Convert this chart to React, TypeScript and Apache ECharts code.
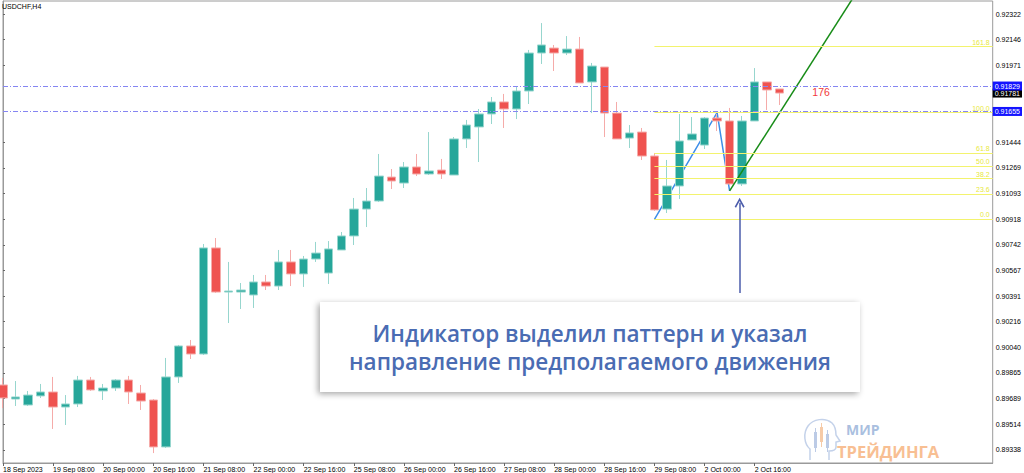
import React, { useEffect, useRef } from 'react';
import * as echarts from 'echarts';

const chartTitle = 'USDCHF,H4';

// H4 bars, oldest first: [open, close, low, high]
const ohlc: number[][] = [
  [0.89783, 0.89694, 0.89625, 0.89831],
  [0.89687, 0.89701, 0.89639, 0.8981],
  [0.89646, 0.89714, 0.89639, 0.89742],
  [0.89708, 0.89735, 0.89694, 0.8979],
  [0.89735, 0.89632, 0.89482, 0.89838],
  [0.89632, 0.89653, 0.89509, 0.89714],
  [0.89653, 0.89817, 0.89632, 0.89845],
  [0.89817, 0.89749, 0.89742, 0.89838],
  [0.89742, 0.89762, 0.8968, 0.8979],
  [0.89762, 0.89817, 0.89742, 0.89824],
  [0.89817, 0.89735, 0.89653, 0.89845],
  [0.89728, 0.89673, 0.89612, 0.89783],
  [0.8968, 0.89359, 0.89317, 0.89687],
  [0.89359, 0.89838, 0.89352, 0.89968],
  [0.89838, 0.9005, 0.89797, 0.90057],
  [0.9005, 0.89995, 0.89961, 0.90091],
  [0.89995, 0.90721, 0.89988, 0.90748],
  [0.90721, 0.90419, 0.90413, 0.90789],
  [0.90419, 0.90426, 0.90207, 0.90625],
  [0.90419, 0.90433, 0.90303, 0.90481],
  [0.90399, 0.90488, 0.9031, 0.90536],
  [0.90488, 0.9046, 0.90433, 0.90536],
  [0.9046, 0.90625, 0.90433, 0.90707],
  [0.90625, 0.90543, 0.9046, 0.90707],
  [0.90543, 0.90645, 0.90454, 0.90666],
  [0.90645, 0.90686, 0.90625, 0.90762],
  [0.90549, 0.90714, 0.90474, 0.90768],
  [0.90707, 0.90803, 0.90707, 0.9083],
  [0.90803, 0.90987, 0.90741, 0.91063],
  [0.90987, 0.91042, 0.90864, 0.91131],
  [0.91042, 0.91213, 0.91035, 0.91364],
  [0.91206, 0.91179, 0.91124, 0.91261],
  [0.91165, 0.91275, 0.91131, 0.91309],
  [0.91275, 0.91227, 0.91213, 0.91364],
  [0.91227, 0.91248, 0.9122, 0.91514],
  [0.91254, 0.91227, 0.91193, 0.9133],
  [0.9122, 0.91467, 0.9122, 0.9148],
  [0.91467, 0.91562, 0.91405, 0.91597],
  [0.91549, 0.91638, 0.91309, 0.91672],
  [0.91638, 0.9172, 0.91569, 0.91754],
  [0.9172, 0.91672, 0.91542, 0.91775],
  [0.91672, 0.91795, 0.91603, 0.91822],
  [0.91795, 0.92055, 0.91706, 0.92076],
  [0.92055, 0.9211, 0.9198, 0.9226],
  [0.92089, 0.92055, 0.91932, 0.9211],
  [0.92055, 0.92082, 0.92041, 0.92171],
  [0.92082, 0.9185, 0.9185, 0.92165],
  [0.91857, 0.91966, 0.91644, 0.91987],
  [0.91959, 0.91644, 0.9148, 0.91959],
  [0.91644, 0.91467, 0.91467, 0.9172],
  [0.91473, 0.91508, 0.91405, 0.91562],
  [0.91514, 0.9135, 0.91323, 0.91542],
  [0.9135, 0.90981, 0.90974, 0.91371],
  [0.90987, 0.91145, 0.9096, 0.91323],
  [0.91145, 0.91453, 0.91056, 0.91638],
  [0.9146, 0.91501, 0.9146, 0.91617],
  [0.91425, 0.9161, 0.91398, 0.91617],
  [0.9161, 0.9159, 0.91521, 0.91638],
  [0.9159, 0.91159, 0.91152, 0.91679],
  [0.91159, 0.9159, 0.91145, 0.91624],
  [0.9159, 0.91857, 0.9159, 0.91952],
  [0.91857, 0.91802, 0.91665, 0.91857],
  [0.91809, 0.91781, 0.91699, 0.91809],
];

// time scale labels, one every four bars
const timeTickBars = [0, 4, 8, 12, 16, 20, 24, 28, 32, 36, 40, 44, 48, 52, 56, 60];
const timeTickLabels = [
  '18 Sep 2023', '19 Sep 08:00', '20 Sep 00:00', '20 Sep 16:00',
  '21 Sep 08:00', '22 Sep 00:00', '22 Sep 16:00', '25 Sep 08:00',
  '26 Sep 00:00', '26 Sep 16:00', '27 Sep 08:00', '28 Sep 00:00',
  '28 Sep 16:00', '29 Sep 08:00', '2 Oct 00:00', '2 Oct 16:00',
];

// price scale labels
const priceTicks = [
  0.89338, 0.89514, 0.89689, 0.89865, 0.9004, 0.90216, 0.90391, 0.90567,
  0.90742, 0.90918, 0.91093, 0.91269, 0.91444, 0.91971, 0.92146, 0.92322,
];

// zigzag swing points [bar, price] and the projected move
const zigzag = [[52, 0.90917], [57, 0.91647], [58, 0.91111]];
const forecast = [[58, 0.91111], [68, 0.92452]];
const fibRatios = [0, 23.6, 38.2, 50, 61.8, 100, 161.8];
const fibFromBar = 52;
const lastSlot = 79;
const priceLines = [0.91829, 0.91655];
const bidPrice = 0.91781;
const moveText = { bar: 65.3, price: 0.91788, text: '176' };
const signalArrow = { bar: 58.8, from: 0.90413, to: 0.91031 };
const priceMin = 0.89249;
const priceMax = 0.92411;

const FONT = "'Liberation Sans', Arial, sans-serif";
const HEAD_PATH =
  'M7 42 L7 31 C1 26 0 15 5 8 C10 1 22 -1 29 5 C33 9 33 14 33 17 L37 23 L33 24 L33 29 C33 32 30 33 26 33 L26 42';

export default function App() {
  const ref = useRef<HTMLDivElement>(null);

  useEffect(() => {
    if (!ref.current) return;
    echarts.graphic.registerShape('brandHead', echarts.graphic.extendPath(HEAD_PATH, {}));
    const chart = echarts.init(ref.current, null, { renderer: 'svg' });

    const p0 = zigzag[0][1];
    const p100 = zigzag[1][1];
    const fibLines = fibRatios.map((r) => {
      const v = p0 + ((p100 - p0) * r) / 100;
      return [
        {
          coord: [fibFromBar, v],
          lineStyle: { color: '#f3f36e', width: 1, type: 'solid' },
          label: {
            show: true,
            position: 'insideEndTop',
            distance: [3, 1],
            formatter: r.toFixed(1),
            color: '#e8e83a',
            fontSize: 7,
            fontFamily: FONT,
          },
        },
        { coord: [lastSlot, v] },
      ];
    });

    const boxLabel = (text: string, bg: string) => ({
      show: true,
      position: 'end',
      distance: 0,
      formatter: text,
      color: '#fff',
      backgroundColor: bg,
      padding: [1, 2, 1, 2],
      fontSize: 7,
      fontFamily: FONT,
    });

    // horizontal price lines across the whole plot, with their boxes on the price scale
    const levelLines = [
      [
        {
          coord: [0, bidPrice],
          lineStyle: { color: 'rgba(0,0,0,0)', width: 0 },
          label: boxLabel(bidPrice.toFixed(5), '#000'),
        },
        { coord: [lastSlot, bidPrice] },
      ],
      ...priceLines.map((v) => [
        {
          coord: [0, v],
          lineStyle: { color: '#8585f2', width: 1, type: [5, 2, 1, 2] },
          label: boxLabel(v.toFixed(5), '#1414ff'),
        },
        { coord: [lastSlot, v] },
      ]),
    ];

    const option: any = {
      animation: false,
      backgroundColor: '#fff',
      title: {
        text: chartTitle,
        left: 2,
        top: 3,
        padding: 0,
        textStyle: { fontSize: 7, fontWeight: 'normal', color: '#000', fontFamily: FONT },
      },
      grid: {
        left: 1,
        right: 26,
        top: 1,
        bottom: 10,
        show: true,
        borderColor: '#9a9a9a',
        borderWidth: 1,
        backgroundColor: '#fff',
      },
      xAxis: {
        type: 'value',
        min: 0,
        max: lastSlot,
        axisLine: { show: true, lineStyle: { color: '#9a9a9a' } },
        axisTick: { show: true, customValues: timeTickBars, length: 3, lineStyle: { color: '#666' } },
        axisLabel: {
          customValues: timeTickBars,
          formatter: (v: number) => timeTickLabels[timeTickBars.indexOf(v)] ?? '',
          align: 'left',
          margin: 3,
          fontSize: 7,
          color: '#000',
          fontFamily: FONT,
        },
        splitLine: { show: false },
      },
      yAxis: {
        type: 'value',
        position: 'right',
        min: priceMin,
        max: priceMax,
        axisLine: { show: true, lineStyle: { color: '#9a9a9a' } },
        axisTick: { show: true, customValues: priceTicks, length: 2, lineStyle: { color: '#666' } },
        axisLabel: {
          customValues: priceTicks,
          formatter: (v: number) => v.toFixed(5),
          margin: 3,
          fontSize: 7,
          color: '#000',
          fontFamily: FONT,
        },
        splitLine: { show: false },
      },
      series: [
        {
          type: 'line',
          name: 'ZigZag',
          data: zigzag,
          symbol: 'none',
          z: 1,
          lineStyle: { color: '#3d8ee8', width: 1.5 },
          markLine: {
            silent: true,
            symbol: ['none', 'none'],
            data: fibLines,
          },
        },
        {
          type: 'candlestick',
          name: chartTitle,
          data: ohlc.map((b, i) => [i, ...b]),
          encode: { x: 0, y: [1, 2, 3, 4] },
          barWidth: 9,
          z: 2,
          itemStyle: {
            color: '#26a69a',
            color0: '#ef5350',
            borderColor: '#97d6ce',
            borderColor0: '#f5aba9',
            borderWidth: 1,
          },
        },
        {
          type: 'line',
          name: 'Levels',
          data: [[0, bidPrice]],
          symbol: 'none',
          z: 3,
          lineStyle: { opacity: 0 },
          markLine: {
            silent: true,
            symbol: ['none', 'none'],
            data: levelLines,
          },
        },
        {
          type: 'line',
          name: 'Forecast',
          data: forecast,
          symbol: 'none',
          z: 3,
          lineStyle: { color: '#178c17', width: 1.5 },
          markLine: {
            silent: true,
            symbol: ['none', 'path://M5 0 L10 9 L8.6 9.8 L5 3.2 L1.4 9.8 L0 9 Z'],
            symbolSize: [10, 10],
            label: { show: false },
            lineStyle: { color: '#4b5cab', width: 1.5, type: 'solid' },
            data: [[{ coord: [signalArrow.bar, signalArrow.from] }, { coord: [signalArrow.bar, signalArrow.to] }]],
          },
          markPoint: {
            silent: true,
            symbol: 'circle',
            symbolSize: 1,
            itemStyle: { color: 'rgba(0,0,0,0)' },
            data: [
              {
                coord: [moveText.bar, moveText.price],
                label: {
                  show: true,
                  position: 'inside',
                  formatter: moveText.text,
                  color: '#f23a3a',
                  fontSize: 10.5,
                  fontFamily: FONT,
                },
              },
            ],
          },
        },
      ],
      graphic: [
        {
          type: 'rect',
          z: 100,
          shape: { x: 320, y: 302, width: 540, height: 90 },
          style: {
            fill: '#fff',
            shadowBlur: 6,
            shadowColor: 'rgba(0,0,0,0.35)',
            shadowOffsetX: -2,
            shadowOffsetY: 2,
          },
        },
        {
          type: 'text',
          z: 101,
          x: 590,
          y: 333,
          style: {
            text: 'Индикатор выделил паттерн и указал',
            fill: '#4a6cb3',
            fontSize: 22.5,
            fontWeight: 600,
            fontFamily: "'Open Sans', sans-serif",
            align: 'center',
            verticalAlign: 'middle',
            textAlign: 'center',
            textVerticalAlign: 'middle',
          },
        },
        {
          type: 'text',
          z: 101,
          x: 590,
          y: 361,
          style: {
            text: 'направление предполагаемого движения',
            fill: '#4a6cb3',
            fontSize: 22.5,
            fontWeight: 600,
            fontFamily: "'Open Sans', sans-serif",
            align: 'center',
            verticalAlign: 'middle',
            textAlign: 'center',
            textVerticalAlign: 'middle',
          },
        },
        {
          type: 'group',
          z: 50,
          x: 803,
          y: 418,
          children: [
            {
              type: 'brandHead',
              style: { fill: 'none', stroke: '#c4d2ea', lineWidth: 1.5 },
            },
            { type: 'rect', shape: { x: 11, y: 14, width: 3, height: 16 }, style: { fill: '#bccbe6' } },
            { type: 'rect', shape: { x: 12, y: 10, width: 1, height: 24 }, style: { fill: '#bccbe6' } },
            { type: 'rect', shape: { x: 17, y: 9, width: 3, height: 15 }, style: { fill: '#f6cba8' } },
            { type: 'rect', shape: { x: 18, y: 5, width: 1, height: 24 }, style: { fill: '#f6cba8' } },
            { type: 'rect', shape: { x: 23, y: 16, width: 3, height: 14 }, style: { fill: '#bccbe6' } },
            { type: 'rect', shape: { x: 24, y: 12, width: 1, height: 22 }, style: { fill: '#bccbe6' } },
            {
              type: 'text',
              x: 43,
              y: 11,
              style: {
                text: 'МИР',
                fill: '#aabfdf',
                fontSize: 14,
                lineHeight: 14,
                fontWeight: 'bold',
                fontFamily: "'Open Sans', sans-serif",
                verticalAlign: 'middle',
                textVerticalAlign: 'middle',
              },
            },
            {
              type: 'text',
              x: 34,
              y: 33,
              style: {
                text: 'ТРЕЙДИНГА',
                fill: '#f8bf93',
                fontSize: 16.5,
                lineHeight: 16,
                fontWeight: 'bold',
                fontFamily: "'Open Sans', sans-serif",
                verticalAlign: 'middle',
                textVerticalAlign: 'middle',
              },
            },
          ],
        },
      ],
    };

    chart.setOption(option);
    return () => chart.dispose();
  }, []);

  return (
    <div
      ref={ref}
      style={{ position: 'fixed', left: 0, top: 0, width: 1024, height: 473, background: '#fff' }}
    />
  );
}
